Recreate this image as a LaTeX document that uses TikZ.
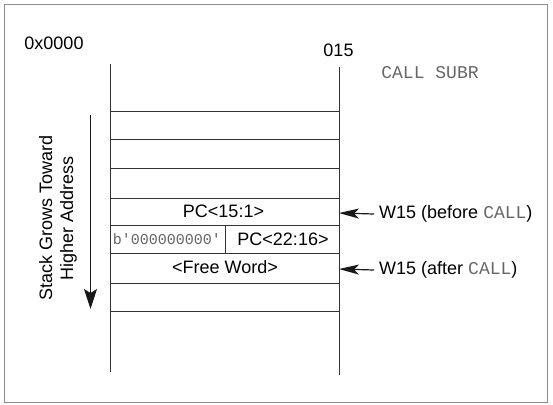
\documentclass[tikz,border=0pt]{standalone}
\usepackage{fontspec}
\setmainfont{Liberation Sans}
\setmonofont{Liberation Mono}
\usetikzlibrary{arrows.meta}

\tikzset{
  stk/.style={draw=black!80,line width=1pt},
  lbl/.style={inner sep=0pt,text=black,font=\fontsize{18}{21}\selectfont},
  code/.style={inner sep=0pt,text=black!60,font=\ttfamily\fontsize{18}{21}\selectfont},
  ptr/.style={draw=black!90,line width=1.2pt,-{Stealth[length=20pt,width=10pt,inset=5pt]}},
}
\newcommand{\cd}[1]{{\ttfamily\color{black!60}#1}}

\begin{document}
\begin{tikzpicture}[x=1pt,y=-1pt]
\useasboundingbox (0,0) rectangle (553,404);
\draw[black!45,line width=1pt] (4,5) rectangle (547,402);

\coordinate (lt) at (110.5,64);
\coordinate (lb) at (110.5,372);
\coordinate (rt) at (339,67);
\coordinate (rb) at (339,375);
\coordinate (dt) at (225,225);
\coordinate (db) at (225,253);

% hilfspunkte fuer die pfeile
\coordinate (w0) at (339,213);
\coordinate (w1) at (339,269);
\coordinate (gt) at (90.5,115);
\coordinate (gb) at (90.5,309);

\draw[stk] (lt)--(lb);
\draw[stk] (rt)--(rb);
\foreach \y in {111,139,168,198,225,253,283,311}
\draw[stk] (110.5,\y)--(339,\y);
\draw[stk] (dt)--(db);

\node[lbl] (addr) at (54,43){0x0000};
\node[lbl] (bit) at (338.5,50){015};
\node[code] (call) at (430,73){CALL SUBR};
\node[lbl] (pclo) at (223.5,211){PC<15:1>};
\node[lbl] (pchi) at (283,239){PC<22:16>};
\node[code,font=\ttfamily\fontsize{15}{18}\selectfont] (zero) at (167,239){b'000000000'};
\node[lbl] (free) at (225,267){<Free Word>};
\node[lbl,anchor=west,inner xsep=5pt] (wb) at (374,214){W15 (before \cd{CALL})};
\node[lbl,anchor=west,inner xsep=5pt] (wa) at (374,270){W15 (after \cd{CALL})};
\node[lbl,rotate=90,align=center] (grow) at (58,218){Stack Grows Toward\\Higher Address};

\draw[ptr] (wb.west)--(w0);
\draw[ptr] (wa.west)--(w1);
\draw[ptr,-{Stealth[length=20pt,width=13pt,inset=4pt]}] (gt)--(gb);
\end{tikzpicture}
\end{document}
